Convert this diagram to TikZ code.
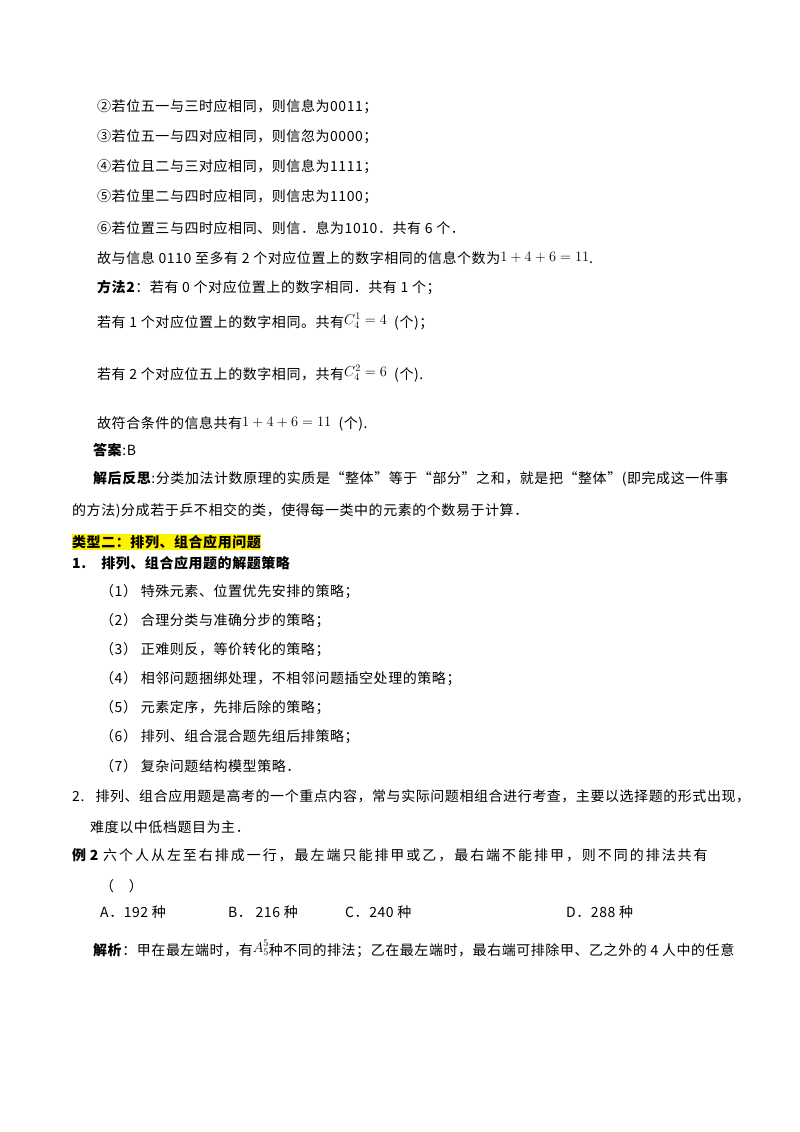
\documentclass[tikz,border=0pt]{standalone}
\usepackage{fontspec}
\setmainfont[LetterSpace=4]{Noto Sans CJK SC}
\newfontfamily\wide[LetterSpace=14]{Noto Sans CJK SC}
\begin{document}
\begin{tikzpicture}[x=1pt,y=-1pt,t/.style={anchor=west,inner sep=0pt,font=\fontsize{14}{16}\selectfont}]
\useasboundingbox[fill=white] (0,0) rectangle (800,1132);
\node[t] (l1) at (97,107) {②若位五一与三时应相同，则信息为0011；};
\node[t] (l2) at (97,137) {③若位五一与四对应相同，则信忽为0000；};
\node[t] (l3) at (97,167) {④若位且二与三对应相同，则信息为1111；};
\node[t] (l4) at (97,197) {⑤若位里二与四时应相同，则信忠为1100；};
\node[t] (l5) at (97,228) {⑥若位置三与四时应相同、则信．息为1010．共有 6 个．};
\node[t] (l6) at (97,258) {故与信息 0110 至多有 2 个对应位置上的数字相同的信息个数为\raisebox{2pt}{$1+4+6=11$}.};
\node[t] (l7) at (97,288) {\textbf{方法2}：若有 0 个对应位置上的数字相同．共有 1 个；};
\node[t] (l8) at (97,322) {若有 1 个对应位置上的数字相同。共有\raisebox{3pt}{$C_4^1=4$}\ \ (个)；};
\node[t] (l9) at (97,374) {若有 2 个对应位五上的数字相同，共有\raisebox{3pt}{$C_4^2=6$}\ \ (个).};
\node[t] (l10) at (97,424) {故符合条件的信息共有\raisebox{2pt}{$1+4+6=11$}\ \ (个).};
\node[t] (l11) at (93,450) {\textbf{答案}:B};
\node[t] (l12) at (93,479) {\textbf{解后反思}:分类加法计数原理的实质是“整体”等于“部分”之和，就是把“整体”(即完成这一件事};
\node[t] (l13) at (72,511) {的方法)分成若于乒不相交的类，使得每一类中的元素的个数易于计算．};
\node[t,fill=yellow,inner ysep=1pt] (l14) at (72,542) {\textbf{类型二：排列、组合应用问题}};
\node[t] (l15) at (72,563) {\textbf{1.\ \ \ \ 排列、组合应用题的解题策略}};
\node[t] (s1) at (100,592) {（1）\ 特殊元素、位置优先安排的策略；};
\node[t] (s2) at (100,621) {（2）\ 合理分类与准确分步的策略；};
\node[t] (s3) at (100,650) {（3）\ 正难则反，等价转化的策略；};
\node[t] (s4) at (100,679) {（4）\ 相邻问题捆绑处理，不相邻问题插空处理的策略；};
\node[t] (s5) at (100,708) {（5）\ 元素定序，先排后除的策略；};
\node[t] (s6) at (100,737) {（6）\ 排列、组合混合题先组后排策略；};
\node[t] (s7) at (100,766) {（7）\ 复杂问题结构模型策略．};
\node[t] (p2) at (72,796) {2.\ \ \ 排列、组合应用题是高考的一个重点内容，常与实际问题相组合进行考查，主要以选择题的形式出现，};
\node[t] (p2b) at (90,827) {难度以中低档题目为主．};
\node[t] (e2) at (72,855) {\textbf{例 2}};
\node[t] (e2t) at (103,855) {\wide 六个人从左至右排成一行，最左端只能排甲或乙，最右端不能排甲，则不同的排法共有};
\node[t] (br) at (100,886) {（\ \ \ \ ）};
\node[t] (oa) at (100,912) {A．192 种};
\node[t] (ob) at (228,912) {B．\ 216 种};
\node[t] (oc) at (345,912) {C．240 种};
\node[t] (od) at (566,912) {D．288 种};
\node[t] (jx) at (93,949) {\textbf{解析}：甲在最左端时，有\raisebox{3pt}{$A_5^5$}种不同的排法；乙在最左端时，最右端可排除甲、乙之外的 4 人中的任意};
\end{tikzpicture}
\end{document}
